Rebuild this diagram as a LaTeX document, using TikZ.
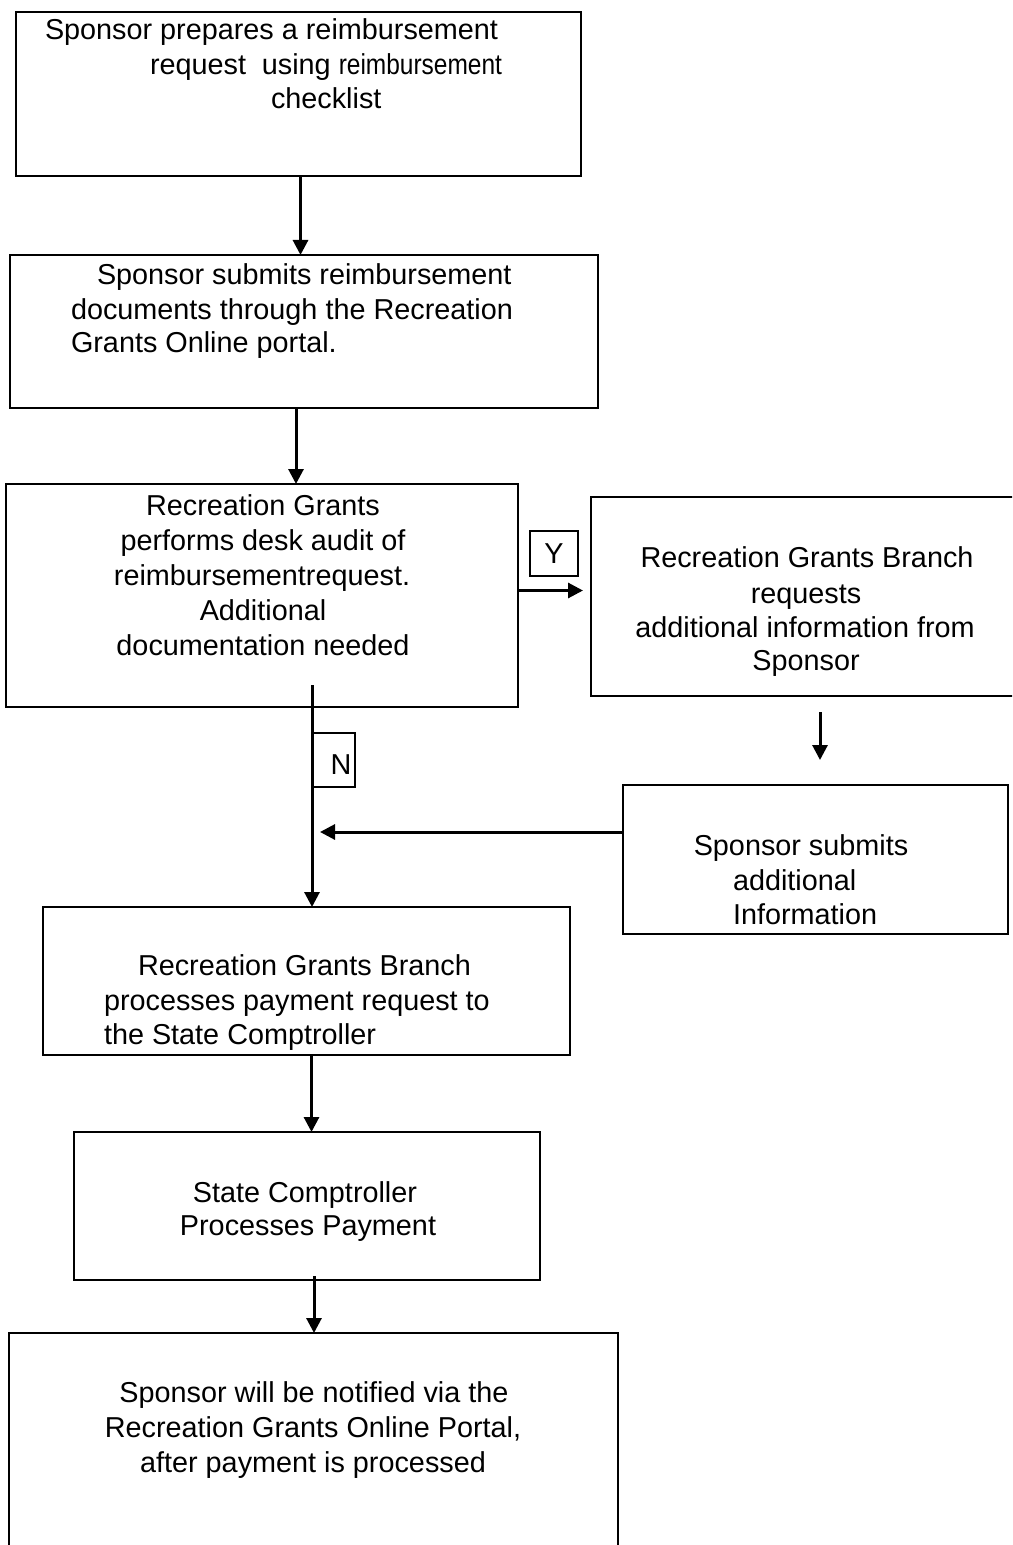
\documentclass[tikz,border=0pt]{standalone}
\usepackage{fontspec}
\usepackage{graphicx}
\setmainfont{Liberation Sans}
\usetikzlibrary{arrows.meta,calc}
\tikzset{
  box/.style={draw, line width=1pt, rectangle, anchor=north west, inner sep=0pt, outer sep=0pt},
  tagbox/.style={draw, line width=0.7pt, rectangle, anchor=north west, inner sep=0pt, outer sep=0pt},
  txt/.style={inner sep=0pt, outer sep=0pt, font=\fontsize{14.4}{17}\selectfont},
  arr/.style={line width=1.5pt, -{Triangle[length=7.5pt,width=7.5pt]}},
}
\begin{document}
\begin{tikzpicture}[x=0.5pt,y=-0.5pt]
\clip (0,0) rectangle (1012,1545);
\fill[white] (0,0) rectangle (1012,1545);

% boxes
\node[box, minimum width=282.5pt, minimum height=82pt]   (b1) at (16,12) {};
\node[box, minimum width=294pt,   minimum height=76.5pt] (b2) at (10,255) {};
\node[box, minimum width=256pt,   minimum height=111.5pt](b3) at (6,484) {};
\node[box, minimum width=219.5pt, minimum height=99.5pt] (b4) at (591,497) {};
\node[box, minimum width=192.5pt, minimum height=74.5pt] (b5) at (623,785) {};
\node[box, minimum width=263.5pt, minimum height=74pt]   (b6) at (43,907) {};
\node[box, minimum width=233pt,   minimum height=74pt]   (b7) at (74,1132) {};
\node[box, minimum width=304.5pt, minimum height=114pt]  (b8) at (9,1333) {};
\node[tagbox, minimum width=24pt, minimum height=22.5pt] (ybox) at (530,531) {};
\node[tagbox, minimum width=21pt, minimum height=27pt]   (nbox) at (313,733) {};

% texts
\node[txt, anchor=base west] (t1a) at (45,40) {Sponsor prepares a reimbursement};
\node[txt, anchor=base west] (t1b) at (150,75) {request\hspace{0.55em}using \scalebox{0.85}[1]{reimbursement}};
\node[txt, anchor=base west] (t1c) at (271,109) {checklist};

\node[txt, anchor=base west] (t2a) at (97,285) {Sponsor submits reimbursement};
\node[txt, anchor=base west] (t2b) at (71,320) {documents through the Recreation};
\node[txt, anchor=base west] (t2c) at (71,353) {Grants Online portal.};

\node[txt, anchor=base] (t3a) at (263,515) {Recreation Grants};
\node[txt, anchor=base] (t3b) at (263,550) {performs desk audit of};
\node[txt, anchor=base] (t3c) at (262,585) {reimbursementrequest.};
\node[txt, anchor=base] (t3d) at (263,620) {Additional};
\node[txt, anchor=base] (t3e) at (263,655) {documentation needed};

\node[txt, anchor=base] (t4a) at (807,567) {Recreation Grants Branch};
\node[txt, anchor=base] (t4b) at (806,603) {requests};
\node[txt, anchor=base] (t4c) at (805,637) {additional information from};
\node[txt, anchor=base] (t4d) at (806,670) {Sponsor};

\node[txt, anchor=base] (t5a) at (801,855) {Sponsor submits};
\node[txt, anchor=base west] (t5b) at (733,890) {additional};
\node[txt, anchor=base west] (t5c) at (733,924) {Information};

\node[txt, anchor=base west] (t6a) at (138,975) {Recreation Grants Branch};
\node[txt, anchor=base west] (t6b) at (104,1010) {processes payment request to};
\node[txt, anchor=base west] (t6c) at (104,1044) {the State Comptroller};

\node[txt, anchor=base] (t7a) at (305,1202) {State Comptroller};
\node[txt, anchor=base] (t7b) at (308,1235) {Processes Payment};

\node[txt, anchor=base] (t8a) at (314,1402) {Sponsor will be notified via the};
\node[txt, anchor=base] (t8b) at (313,1437) {Recreation Grants Online Portal,};
\node[txt, anchor=base] (t8c) at (313,1472) {after payment is processed};

\node[txt] (ty) at (ybox.center) {Y};
\node[txt] (tn) at (341,765) {N};

% helper coordinates
\coordinate (n0) at (312,685);
\coordinate (m) at (320,832);
\coordinate (c4) at (820,0);

% connectors
\draw[arr] ([xshift=1pt]b1.south) -- ([xshift=1pt]b1.south |- b2.north);
\draw[arr] ([xshift=-4pt]b2.south) -- ([xshift=-4pt]b2.south |- b3.north);
\draw[arr, shorten >=4pt] ([yshift=2.5pt]b3.east) -- ([yshift=2.5pt]b3.east -| b4.west);
\draw[arr, shorten <=8pt, shorten >=12.5pt] (b4.south -| c4) -- (b5.north -| c4);
\draw[arr] (b5.west |- m) -- (m);
\draw[arr] (n0) -- (n0 |- b6.north);
\draw[arr] ([xshift=2.5pt]b6.south) -- ([xshift=2.5pt]b6.south |- b7.north);
\draw[arr] ([xshift=3.5pt,yshift=2pt]b7.south) -- ([xshift=3.5pt]b7.south |- b8.north);
\end{tikzpicture}
\end{document}
